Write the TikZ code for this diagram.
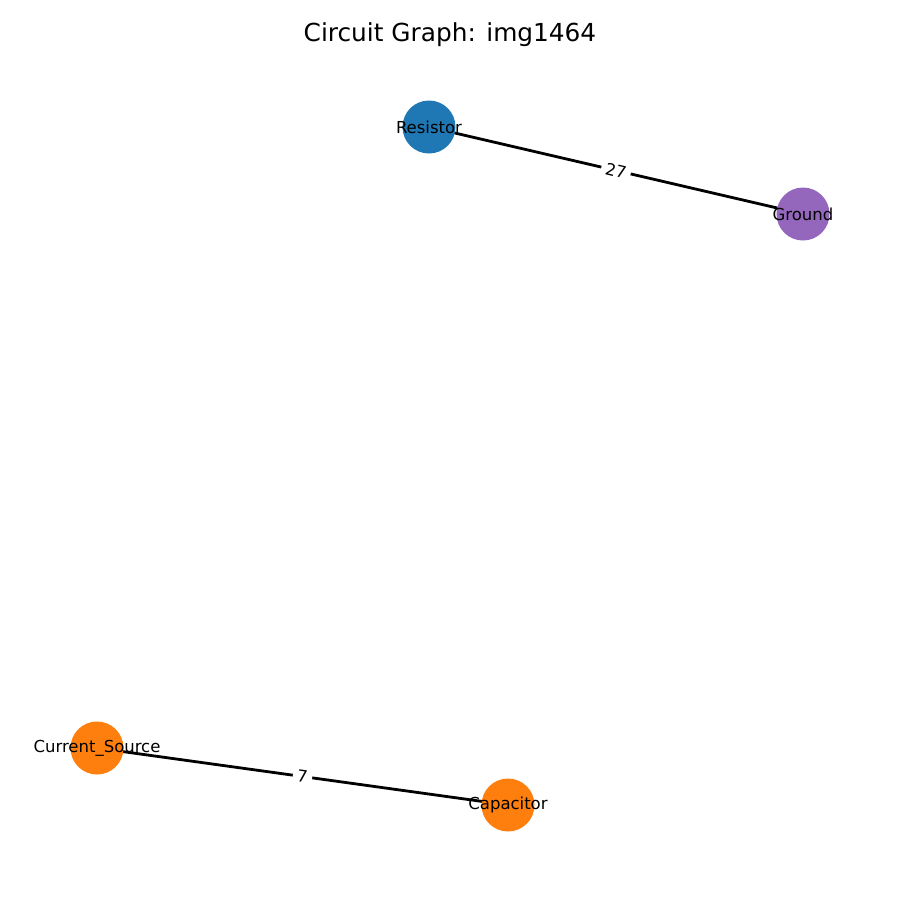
\documentclass[tikz,border=0pt]{standalone}
\usepackage{fontspec}
\setmainfont{DejaVu Sans}
\definecolor{tabblue}{HTML}{1F77B4}
\definecolor{taborange}{HTML}{FF7F0E}
\definecolor{tabpurple}{HTML}{9467BD}
\tikzset{
  part/.style={circle, minimum size=53pt, inner sep=0pt},
  partname/.style={font=\fontsize{16.5}{18}\selectfont, inner sep=0pt},
  wire/.style={line width=2.8pt, black},
  weight/.style={midway, sloped, fill=white, inner sep=4.5pt, font=\fontsize{16.5}{18}\selectfont}
}
\begin{document}
\begin{tikzpicture}[x=1pt, y=-1pt]
\useasboundingbox (0,0) rectangle (900,900);

%Title
\node[font=\fontsize{24.8}{28}\selectfont] (title) at (450,35) {Circuit Graph: img1464};

%Component positions
\coordinate (r) at (429,127);
\coordinate (g) at (803,214);
\coordinate (cs) at (97,748);
\coordinate (c) at (508,805);

%Wires
\draw[wire] (r) -- node[weight] {27} (g);
\draw[wire] (cs) -- node[weight] {7} (c);

%Components
\node[part, fill=tabblue] (res) at (r) {};
\node[part, fill=tabpurple] (gnd) at (g) {};
\node[part, fill=taborange] (src) at (cs) {};
\node[part, fill=taborange] (cap) at (c) {};
\node[partname] (resname) at (res) {Resistor};
\node[partname] (gndname) at (gnd) {Ground};
\node[partname] (srcname) at (src) {Current\_Source};
\node[partname] (capname) at (cap) {Capacitor};
\end{tikzpicture}
\end{document}
